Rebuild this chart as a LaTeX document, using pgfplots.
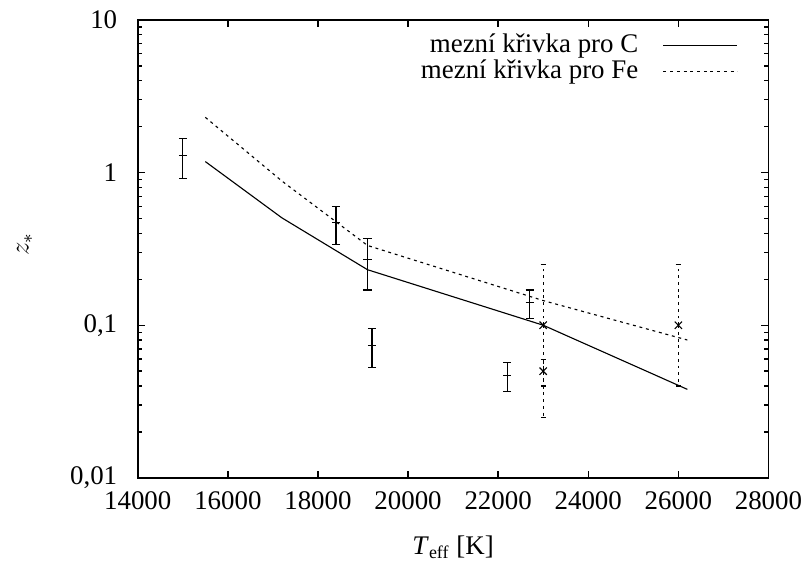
\documentclass[border=0pt,12pt]{standalone}
\usepackage{fontspec}
\setmainfont{Liberation Serif}
\usepackage{pgfplots}
\pgfplotsset{compat=1.18}
\begin{document}
\begin{tikzpicture}
\begin{axis}[
  scale only axis, width=281.5pt, height=204.4pt,
  xmin=14000, xmax=28000, ymode=log, ymin=0.01, ymax=10,
  scaled x ticks=false,
  xtick={14000,16000,18000,20000,22000,24000,26000,28000},
  xticklabels={14000,16000,18000,20000,22000,24000,26000,28000},
  ytick={0.01,0.1,1,10}, yticklabels={{0,01},{0,1},{1},{10}},
  /pgf/number format/assume math mode=true,
  axis line style={line width=0.8pt},
  tick style={line width=0.6pt, black},
  major tick length=3.2pt, minor tick length=1.8pt,
  xticklabel style={yshift=-2pt}, yticklabel style={xshift=-5pt},
  xlabel={\textit{T}\textsubscript{eff} [K]}, ylabel={$z_{*}$},
  every axis x label/.style={at={(axis description cs:0.5,-0.152)}, anchor=center},
  every axis y label/.style={at={(axis description cs:-0.179,0.51)}, anchor=center, rotate=90},
  legend style={at={(axis description cs:0.963,0.99)}, anchor=north east, draw=none, fill=none, legend cell align=right, row sep=-2.5pt},
  legend plot pos=right,
  legend image code/.code={\path (0pt,0pt); \draw[#1] (9pt,0pt) -- (42pt,0pt);},
]
\addplot[black, line width=0.5pt] coordinates {
  (15500,1.18) (17200,0.505) (19100,0.231) (23000,0.1) (26200,0.038)
};
\addlegendentry{mezní křivka pro C}
\addplot[black, line width=0.5pt, dash pattern=on 1.3pt off 1.7pt] coordinates {
  (15500,2.3) (17200,0.88) (19100,0.333) (23000,0.145) (26200,0.08)
};
\addlegendentry{mezní křivka pro Fe}
\addplot[black, line width=0.5pt, only marks, mark=+, mark size=1.8pt, forget plot,
  error bars/.cd, y dir=both, y explicit,
  error mark options={rotate=90, mark size=1.8pt, line width=0.5pt, black},
  error bar style={line width=0.5pt, black}] coordinates {
  (15000,1.3) +- (0,0.38)
  (18400,0.47) +- (0,0.13)
  (19100,0.27) +- (0,0.10)
  (19200,0.074) +- (0,0.021)
  (22200,0.047) +- (0,0.010)
  (22700,0.14) +- (0,0.03)
};
\addplot[black, line width=0.5pt, only marks, mark=x, mark size=2.3pt, forget plot,
  error bars/.cd, y dir=both, y explicit,
  error mark options={rotate=90, mark size=1.2pt, line width=0.5pt, black},
  error bar style={line width=0.5pt, black, dash pattern=on 1.3pt off 1.7pt}] coordinates {
  (23000,0.1) += (0,0.15) -= (0,0.075)
  (23000,0.05) += (0,0.01) -= (0,0.01)
  (26000,0.1) += (0,0.15) -= (0,0.06)
};
\end{axis}
\path ([shift={(-61.5pt,-39.6pt)}]current axis.south west) rectangle ([shift={(17.5pt,8.9pt)}]current axis.north east);
\end{tikzpicture}
\end{document}
